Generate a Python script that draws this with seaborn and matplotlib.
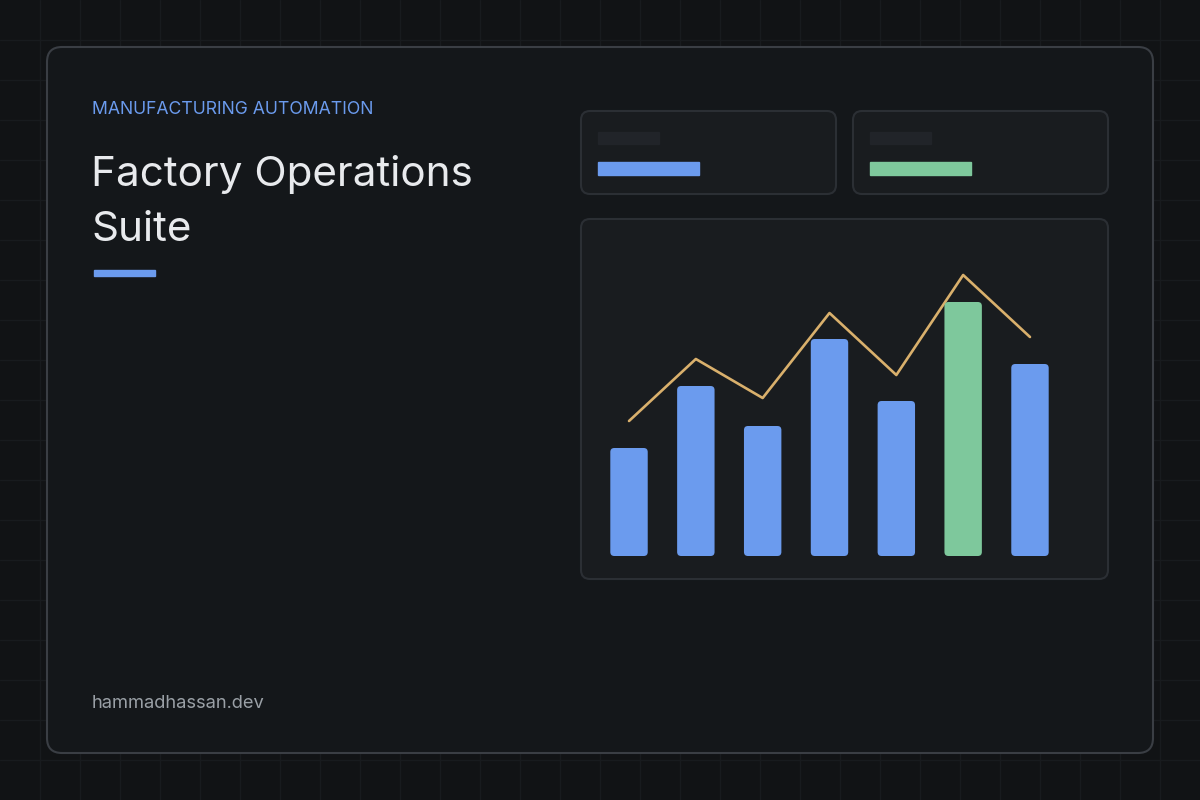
import numpy as np
import pandas as pd
import matplotlib.pyplot as plt
from matplotlib.patches import FancyBboxPatch, Rectangle
import seaborn as sns

# values
lines = ['L1', 'L2', 'L3', 'L4', 'L5', 'L6', 'L7']
output = [108, 170, 130, 217, 155, 254, 192]
target = [135, 197, 158, 243, 181, 281, 219]
highlight = 'L6'

eyebrow = 'MANUFACTURING AUTOMATION'
title_lines = ['Factory Operations', 'Suite']
footer = 'hammadhassan.dev'

# colours
BG = '#111315'
GRID = '#181b1e'
CARD = '#14171a'
CARD_EDGE = '#3a3e44'
PANEL = '#191c1f'
PANEL_EDGE = '#2b2f34'
PLACEHOLDER = '#212429'
BLUE = '#6b9bee'
GREEN = '#7ec89c'
GOLD = '#d9b06c'
TITLE = '#e8eaed'
MUTED = '#9aa0a6'

sns.set_theme(style='dark')
plt.rcParams['font.family'] = ['Inter', 'DejaVu Sans']

fig = plt.figure(figsize=(12, 8), dpi=100)
fig.patch.set_facecolor(BG)

# background layer in pixel units
bg = fig.add_axes([0, 0, 1, 1])
bg.set_xlim(0, 1200)
bg.set_ylim(800, 0)
bg.axis('off')
bg.add_patch(Rectangle((0, 0), 1200, 800, color=BG, zorder=0))
for g in range(40, 1200, 40):
    bg.axvline(g, color=GRID, lw=1, zorder=1)
for g in range(40, 800, 40):
    bg.axhline(g, color=GRID, lw=1, zorder=1)

def card(x, y, w, h, face, edge, r, lw=1.5):
    bg.add_patch(FancyBboxPatch((x, y), w, h, boxstyle=f'round,pad=0,rounding_size={r}',
                                facecolor=face, edgecolor=edge, lw=lw, zorder=2))

card(47, 47, 1106, 706, CARD, CARD_EDGE, 15)
card(581, 111, 255, 83, PANEL, PANEL_EDGE, 9)
card(853, 111, 255, 83, PANEL, PANEL_EDGE, 9)
card(581, 219, 527, 360, PANEL, PANEL_EDGE, 9)

# kpi placeholders
bg.add_patch(Rectangle((598, 132), 61, 12, color=PLACEHOLDER, zorder=3))
bg.add_patch(Rectangle((598, 162), 101, 13, color=BLUE, zorder=3))
bg.add_patch(Rectangle((870, 132), 61, 12, color=PLACEHOLDER, zorder=3))
bg.add_patch(Rectangle((870, 162), 101, 13, color=GREEN, zorder=3))

# text
bg.text(92, 114, eyebrow, fontsize=12.7, color=BLUE, va='baseline', zorder=4)
bg.text(91, 186, title_lines[0], fontsize=30.4, color=TITLE, va='baseline', zorder=4)
bg.text(91, 241, title_lines[1], fontsize=30.4, color=TITLE, va='baseline', zorder=4)
bg.add_patch(Rectangle((94, 270), 61, 6, color=BLUE, zorder=4))
bg.text(92, 708, footer, fontsize=13.2, color=MUTED, va='baseline', zorder=4)

# chart
ax = fig.add_axes([595.6 / 1200, 244 / 800, 467.8 / 1200, 300 / 800])
ax.patch.set_alpha(0)
df = pd.DataFrame({'line': lines, 'output': output, 'target': target})
palette = {l: (GREEN if l == highlight else BLUE) for l in lines}
sns.barplot(data=df, x='line', y='output', hue='line', palette=palette, legend=False,
            dodge=False, saturation=1, width=0.56, ax=ax)
sns.lineplot(x=np.arange(len(lines)), y=df['target'], color=GOLD, lw=1.9, ax=ax)
ax.set_xlim(-0.5, len(lines) - 0.5)
ax.set_ylim(0, 300)

# round the bar corners
px_x = 467.8 / (len(lines))  # pixels per x unit
rad = 4.0
for p in list(ax.patches):
    x, y, w, h = p.get_x(), p.get_y(), p.get_width(), p.get_height()
    fc = p.get_facecolor()
    p.remove()
    ax.add_patch(FancyBboxPatch((x, y), w, h,
                                boxstyle=f'round,pad=0,rounding_size={rad / px_x}',
                                mutation_aspect=px_x, facecolor=fc, edgecolor='none', zorder=2))
ax.axis('off')

fig.savefig('out.png', dpi=100, facecolor=BG)
